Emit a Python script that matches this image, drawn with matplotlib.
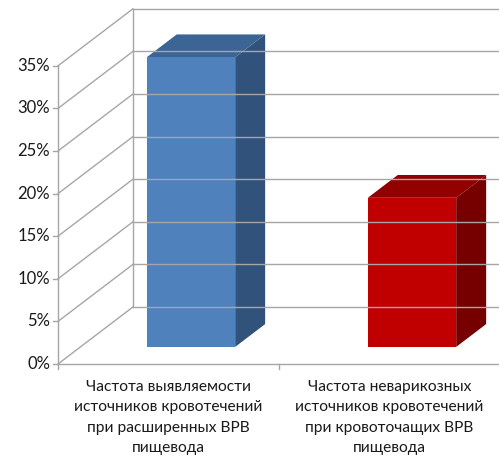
import matplotlib.pyplot as plt
from matplotlib.patches import Polygon

plt.rcParams['font.family'] = ['Lato', 'DejaVu Sans']

# dati
categorie = ["Частота выявляемости\nисточников кровотечений\nпри расширенных ВРВ\nпищевода",
             "Частота неварикозных\nисточников кровотечений\nпри кровоточащих ВРВ\nпищевода"]
valori = [34.0, 17.5]
tick_y = [0, 5, 10, 15, 20, 25, 30, 35]
tick_lab = ["0%", "5%", "10%", "15%", "20%", "25%", "30%", "35%"]

col_front = ["#4F81BD", "#C00000"]
col_top = ["#3C6494", "#920000"]
col_side = ["#31527A", "#760000"]

# proiezione obliqua: profondita' d in [0,1]
ox, oy = 0.339, 6.69
def P(x, y, d):
    return (x + d * ox, y + d * oy)

fig = plt.figure(figsize=(4.99, 4.65), dpi=100)
ax = fig.add_axes([0, 0, 1, 1])
ax.set_xlim(-58 / 221, 441 / 221)
ax.set_ylim(-101 / 8.52, 364 / 8.52)
ax.axis('off')

gc = "#a6a6a6"
ymax = tick_y[-1]
# parete di fondo e parete sinistra
for v, lab in zip(tick_y, tick_lab):
    ax.plot(*zip(P(0, v, 1), P(2.2, v, 1)), color=gc, lw=1)
    ax.plot(*zip(P(0, v, 0), P(0, v, 1)), color=gc, lw=1)
    ax.plot([-0.023, 0], [v, v], color=gc, lw=1)
    ax.text(-0.035, v, lab, ha='right', va='center', fontsize=12, color='#1a1a1a')
ax.plot(*zip(P(0, 0, 0), P(0, ymax, 0)), color=gc, lw=1)
ax.plot(*zip(P(0, 0, 1), P(0, ymax, 1)), color=gc, lw=1)
# pavimento
ax.plot([0, 2.2], [0, 0], color=gc, lw=1)
for x in [0, 1, 2]:
    ax.plot([x, x], [0, -0.6], color=gc, lw=1)

# barre 3D
w, d0, d1 = 0.4, 0.3, 0.7
for i, val in enumerate(valori):
    xl, xr = i + 0.5 - w / 2, i + 0.5 + w / 2
    side = [P(xr, 0, d0), P(xr, 0, d1), P(xr, val, d1), P(xr, val, d0)]
    top = [P(xl, val, d0), P(xr, val, d0), P(xr, val, d1), P(xl, val, d1)]
    front = [P(xl, 0, d0), P(xr, 0, d0), P(xr, val, d0), P(xl, val, d0)]
    ax.add_patch(Polygon(side, closed=True, fc=col_side[i], ec='none'))
    ax.add_patch(Polygon(top, closed=True, fc=col_top[i], ec='none'))
    ax.add_patch(Polygon(front, closed=True, fc=col_front[i], ec='none'))

for i, c in enumerate(categorie):
    ax.text(i + 0.5, -1.9, c, ha='center', va='top', fontsize=11.2,
            linespacing=1.56, color='#1a1a1a')

fig.savefig("out.png", dpi=100)
